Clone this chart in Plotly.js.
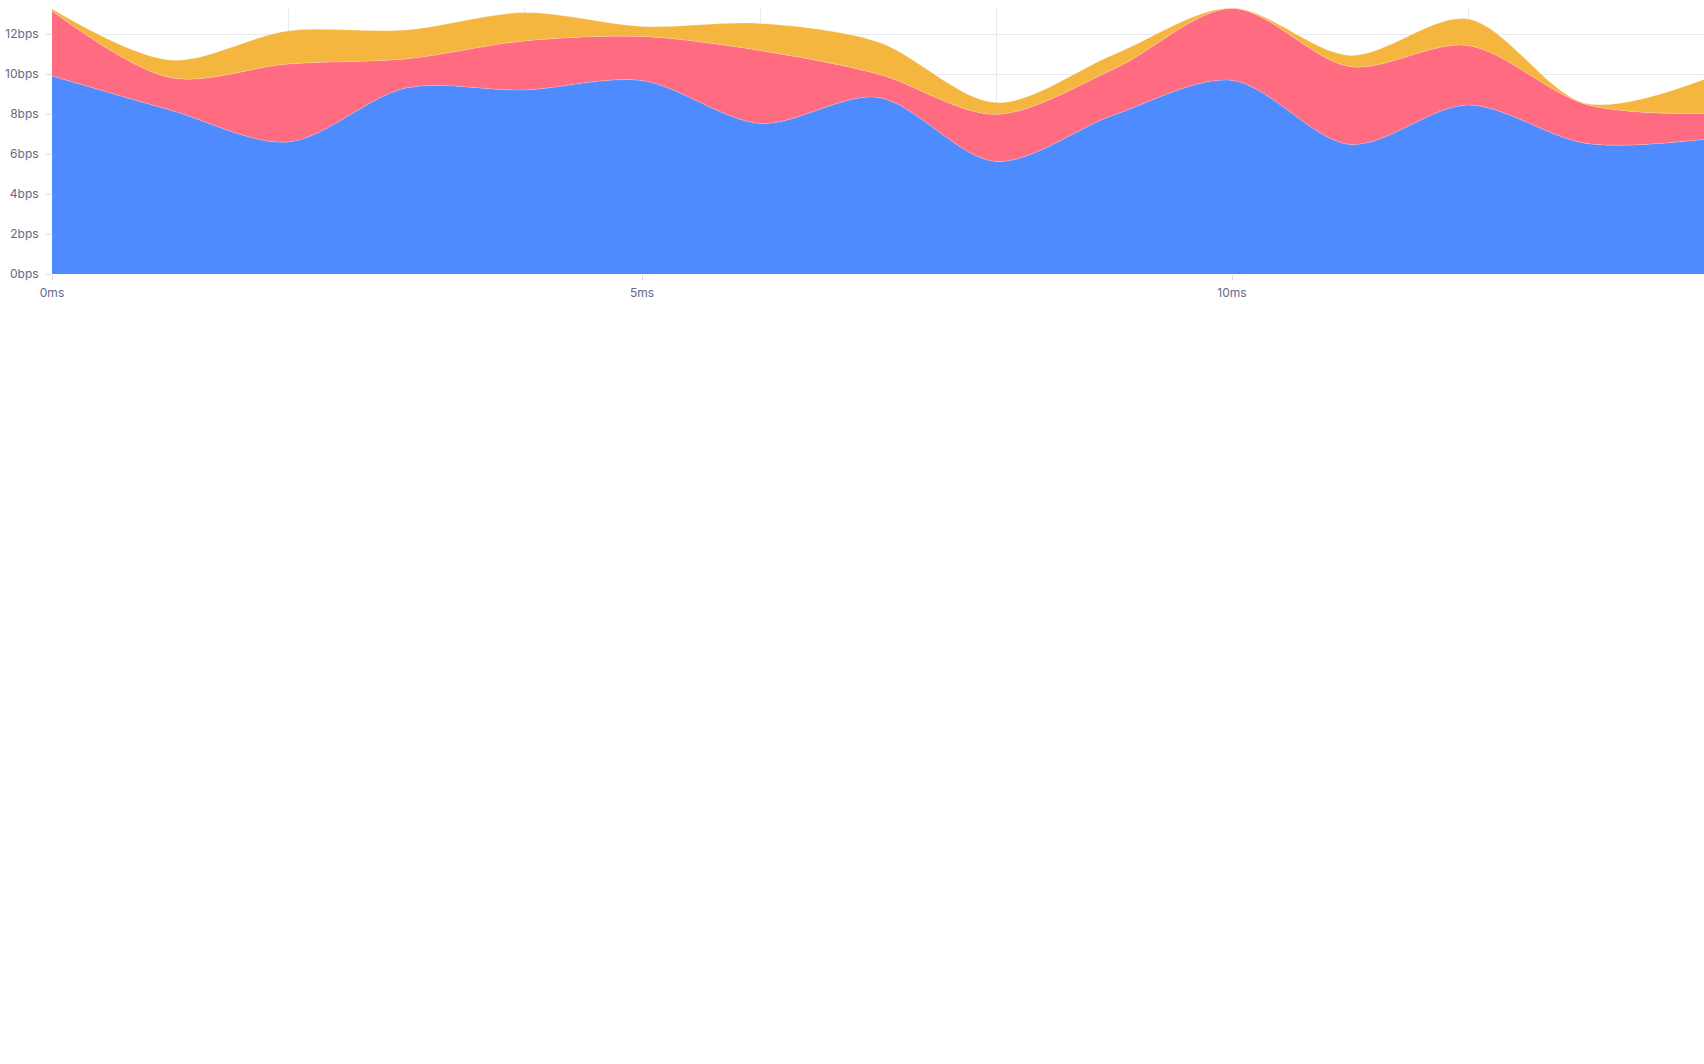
<!DOCTYPE html>
<html>
<head>
<meta charset="utf-8">
<script src="https://cdn.plot.ly/plotly-3.0.1.min.js"></script>
<style>
  html, body { margin: 0; padding: 0; background: #ffffff; }
  #chart { width: 1704px; height: 1064px; }
</style>
</head>
<body>
<div id="chart"></div>
<script>
// Time in ms
const timeMs = [0, 1, 2, 3, 4, 5, 6, 7, 8, 9, 10, 11, 12, 13, 14];
// Stacked series values (bps)
const seriesA = [9.9, 8.2, 6.6, 9.3, 9.2, 9.67, 7.53, 8.83, 5.63, 7.95, 9.68, 6.48, 8.45, 6.53, 6.73];
const seriesB = [3.25, 1.62, 3.9, 1.45, 2.45, 2.2, 3.64, 1.17, 2.35, 2.3, 3.6, 3.89, 2.97, 1.95, 1.29];
const seriesC = [0.1, 0.88, 1.65, 1.45, 1.42, 0.51, 1.36, 1.6, 0.59, 0.73, 0.02, 0.56, 1.33, 0.05, 1.71];
const seriesNames = ['A', 'B', 'C'];
const seriesColors = ['#4d8bff', '#ff6b81', '#f5b640'];
const yTicks = [0, 2, 4, 6, 8, 10, 12];
const xTicks = [0, 5, 10];

const allSeries = [seriesA, seriesB, seriesC];
const traces = allSeries.map((vals, i) => ({
  type: 'scatter',
  mode: 'lines',
  x: timeMs,
  y: vals,
  name: seriesNames[i],
  stackgroup: 'one',
  line: { shape: 'spline', smoothing: 0.9, width: 0.6, color: 'rgba(255,255,255,0.35)' },
  fillcolor: seriesColors[i],
  hoverinfo: 'skip'
}));

const gridColor = '#e9e9f1';
const fontCfg = { family: 'Inter, "Noto Sans", sans-serif', size: 12, color: '#636a86' };

const layout = {
  width: 1704,
  height: 1064,
  margin: { l: 52, r: 0, t: 8, b: 790, pad: 0 },
  paper_bgcolor: '#ffffff',
  plot_bgcolor: '#ffffff',
  showlegend: false,
  font: fontCfg,
  xaxis: {
    range: [0, 14],
    tickmode: 'array',
    tickvals: xTicks,
    ticktext: xTicks.map(v => v + 'ms'),
    showgrid: false,
    zeroline: false,
    showline: false,
    ticks: 'outside',
    ticklen: 5,
    tickwidth: 1,
    tickcolor: '#dcdce6',
    ticklabelstandoff: 3,
    tickfont: fontCfg,
    minor: { dtick: 2, tick0: 0, showgrid: true, gridcolor: gridColor, gridwidth: 1, ticks: '' },
    fixedrange: true
  },
  yaxis: {
    range: [0, 13.3],
    tickmode: 'array',
    tickvals: yTicks,
    ticktext: yTicks.map(v => v + 'bps'),
    showgrid: true,
    gridcolor: gridColor,
    gridwidth: 1,
    zeroline: false,
    showline: false,
    ticks: 'outside',
    ticklen: 5,
    tickwidth: 1,
    tickcolor: '#dcdce6',
    ticklabelstandoff: 5,
    tickfont: fontCfg,
    fixedrange: true
  }
};

Plotly.newPlot('chart', traces, layout, { displayModeBar: false, staticPlot: true });
</script>
</body>
</html>
